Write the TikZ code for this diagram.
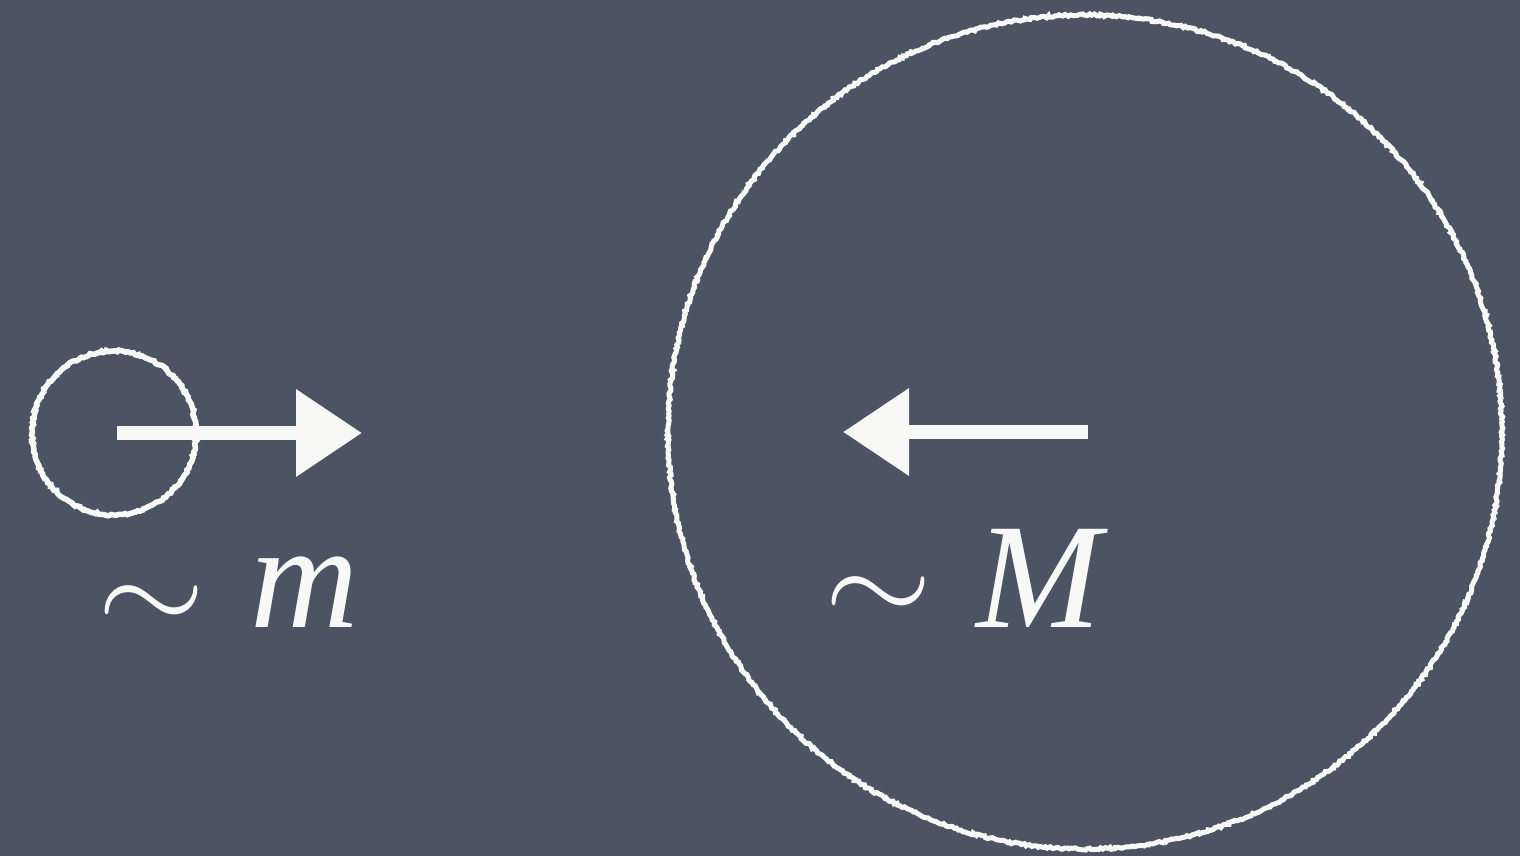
\documentclass[tikz,border=0pt]{standalone}
\usepackage{fontspec}
\usepackage{graphicx}
\setmainfont{Liberation Serif}
\usetikzlibrary{arrows.meta,decorations.pathmorphing}
\definecolor{board}{HTML}{4C5363}
\definecolor{chalk}{HTML}{F8F8F6}
\newcommand{\bigsim}[1]{\raisebox{#1}{\scalebox{13.9}[12.5]{\fontsize{10}{10}\selectfont$\sim$}}}
\tikzset{
  chalkring/.style={circle,draw=chalk,line width=5pt,inner sep=0pt,
    decorate,decoration={random steps,segment length=2.2pt,amplitude=1.1pt}},
  chalkarrow/.style={draw=chalk,line width=14pt,-{Triangle[length=66pt,width=84pt]}},
  label/.style={text=chalk,font=\fontsize{150}{150}\selectfont,inner sep=0pt,anchor=base west},
}
\begin{document}
\begin{tikzpicture}[x=1pt,y=-1pt]
\fill[board] (0,0) rectangle (1520,856);
\useasboundingbox (0,0) rectangle (1520,856);
\node[chalkring,minimum size=164pt,line width=5.5pt] (small) at (114,433) {};
\node[chalkring,minimum size=834pt] (big) at (1085,432) {};
\coordinate (s1) at (117,433);
\coordinate (s2) at (362,433);
\draw[chalkarrow] (s1) -- (s2);
\coordinate (b1) at (1088,432);
\coordinate (b2) at (843,432);
\draw[chalkarrow] (b1) -- (b2);
\node[label] (lm) at (97,627) {\bigsim{-4.5pt}\hspace{45pt}\textit{m}};
\node[label] (lM) at (824,627) {\bigsim{5pt}\hspace{44pt}\textit{M}};
\end{tikzpicture}
\end{document}
